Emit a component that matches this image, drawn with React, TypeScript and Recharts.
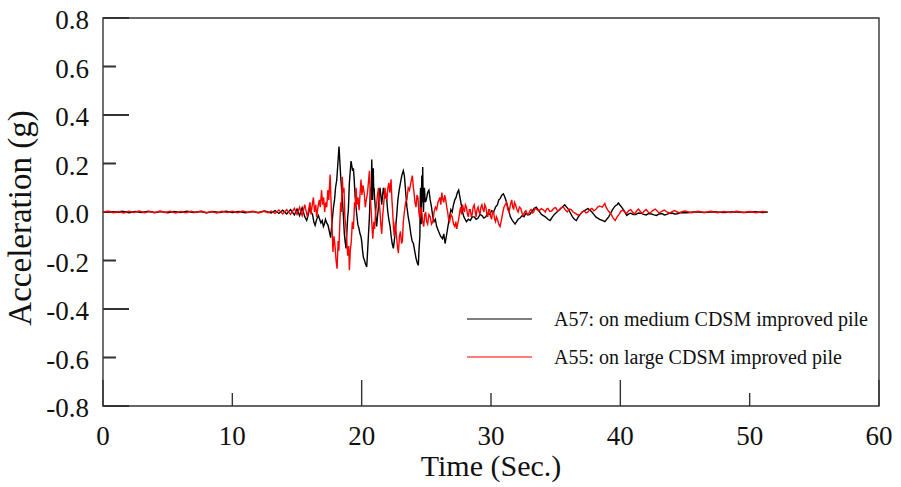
import { Legend, Line, LineChart, ReferenceArea, ReferenceLine, XAxis, YAxis } from "recharts";

// [time (s), acceleration (g)]
// A57: on medium CDSM improved pile (black)
const a57Samples: [number, number][] = [
  [0, 0], [0.5, 0.002], [1, -0.002], [1.5, 0.003], [2, -0.003], [2.5, 0.002], [3, -0.002], [3.5, 0.003],
  [4, -0.002], [4.5, 0.002], [5, -0.003], [5.5, 0.002], [6, -0.002], [6.5, 0.003], [7, -0.002], [7.5, 0.002],
  [8, -0.003], [8.5, 0.002], [9, -0.002], [9.5, 0.003], [10, -0.002], [10.5, 0.002], [11, -0.003], [11.5, 0.002],
  [12, -0.002], [12.5, 0.004], [13, -0.004], [13.3, 0.006], [13.6, -0.006], [13.9, 0.007], [14.2, -0.008],
  [14.5, 0.01], [14.8, -0.012], [15, 0.012], [15.2, -0.015], [15.4, 0.018], [15.6, -0.02], [15.75, -0.035],
  [15.88, -0.01], [16, 0.02], [16.1, 0], [16.2, -0.01], [16.3, -0.04], [16.4, -0.055], [16.52, -0.03],
  [16.65, -0.014], [16.75, -0.03], [16.85, -0.045], [16.95, -0.035], [17.04, -0.06], [17.12, -0.05], [17.2, -0.03],
  [17.3, -0.045], [17.4, -0.055], [17.5, -0.08], [17.6, -0.106], [17.68, -0.06], [17.75, -0.02], [17.82, 0.02],
  [17.9, 0.048], [17.98, 0.1], [18.07, 0.13], [18.16, 0.2], [18.25, 0.27], [18.32, 0.2], [18.38, 0.145],
  [18.44, 0.1], [18.5, 0.06], [18.59, -0.02], [18.66, -0.09], [18.72, -0.12], [18.79, -0.15], [18.86, -0.08],
  [18.92, -0.02], [18.97, 0.007], [19.05, 0.12], [19.12, 0.17], [19.18, 0.21], [19.24, 0.19], [19.3, 0.17],
  [19.36, 0.18], [19.41, 0.145], [19.5, 0.06], [19.6, 0], [19.7, -0.05], [19.8, -0.07], [19.87, -0.09],
  [19.94, -0.1], [20, -0.12], [20.07, -0.16], [20.13, -0.186], [20.22, -0.2], [20.3, -0.215], [20.39, -0.227],
  [20.45, -0.17], [20.5, -0.12], [20.55, -0.07], [20.6, -0.02], [20.65, 0.06], [20.7, 0.1], [20.74, 0.05],
  [20.78, 0.216], [20.82, 0.12], [20.85, 0.05], [20.88, 0.15], [20.9, 0.18], [20.93, 0.09], [20.96, 0.1],
  [21, 0.06], [21.05, 0.02], [21.1, -0.03], [21.16, -0.06], [21.22, -0.02], [21.3, 0.02], [21.36, 0.07],
  [21.42, 0.1], [21.48, 0.07], [21.55, 0.03], [21.62, 0.07], [21.68, 0.1], [21.74, 0.08], [21.8, 0.06],
  [21.88, 0.07], [21.94, 0.05], [22.02, 0], [22.1, -0.03], [22.2, -0.06], [22.28, -0.1], [22.36, -0.13],
  [22.45, -0.15], [22.52, -0.12], [22.6, -0.08], [22.7, -0.02], [22.8, 0.05], [22.9, 0.09], [23, 0.12],
  [23.1, 0.15], [23.22, 0.17], [23.3, 0.15], [23.35, 0.12], [23.42, 0.07], [23.5, 0.02], [23.6, -0.02],
  [23.7, -0.05], [23.8, -0.09], [23.9, -0.12], [24, -0.13], [24.1, -0.16], [24.2, -0.19], [24.3, -0.21],
  [24.38, -0.22], [24.44, -0.15], [24.5, -0.1], [24.53, 0.05], [24.55, 0.1], [24.58, -0.02], [24.6, -0.05],
  [24.63, 0.08], [24.65, 0.15], [24.68, 0.04], [24.72, 0.186], [24.75, 0.06], [24.78, 0], [24.82, 0.08],
  [24.85, 0.1], [24.92, 0.04], [25, 0.05], [25.1, 0.08], [25.2, 0.09], [25.3, 0.05], [25.4, 0.02], [25.5, -0.02],
  [25.6, -0.04], [25.7, -0.03], [25.8, -0.06], [25.95, -0.08], [26.1, -0.1], [26.25, -0.11], [26.35, -0.09],
  [26.45, -0.13], [26.55, -0.1], [26.7, -0.05], [26.8, -0.02], [26.9, 0.01], [27, 0], [27.1, 0.03], [27.2, 0.05],
  [27.3, 0.06], [27.4, 0.08], [27.5, 0.09], [27.6, 0.06], [27.7, 0.03], [27.8, 0], [27.9, -0.02], [28, -0.03],
  [28.1, -0.04], [28.25, -0.03], [28.4, -0.035], [28.55, -0.02], [28.7, -0.02], [28.85, -0.03], [29, -0.025],
  [29.15, -0.01], [29.3, -0.015], [29.45, -0.025], [29.6, -0.02], [29.75, -0.005], [29.9, -0.01], [30.05, 0.005],
  [30.2, 0], [30.35, 0.02], [30.5, 0.03], [30.6, 0.05], [30.7, 0.055], [30.85, 0.07], [30.96, 0.075],
  [31.08, 0.06], [31.2, 0.04], [31.35, 0.01], [31.5, -0.02], [31.65, -0.035], [31.86, -0.05], [31.98, -0.04],
  [32.1, -0.03], [32.25, -0.025], [32.4, -0.015], [32.55, -0.02], [32.7, -0.005], [32.85, -0.012], [33, -0.01],
  [33.2, 0.005], [33.35, 0.015], [33.5, 0.02], [33.7, 0.005], [33.9, -0.01], [34.05, -0.015], [34.2, -0.02],
  [34.4, -0.03], [34.57, -0.035], [34.75, -0.02], [34.9, -0.01], [35.1, 0], [35.3, 0.01], [35.5, 0.02],
  [35.7, 0.03], [35.85, 0.02], [36, 0.01], [36.15, -0.005], [36.3, -0.02], [36.45, -0.03], [36.6, -0.035],
  [36.75, -0.02], [36.9, -0.01], [37.05, 0], [37.2, 0.005], [37.35, 0.01], [37.5, 0.014], [37.65, 0.008],
  [37.8, 0], [37.95, -0.01], [38.1, -0.02], [38.25, -0.025], [38.4, -0.03], [38.6, -0.035], [38.8, -0.04],
  [38.95, -0.03], [39.1, -0.02], [39.25, -0.005], [39.4, 0.01], [39.6, 0.025], [39.75, 0.03], [39.85, 0.037],
  [39.95, 0.03], [40.1, 0.02], [40.3, 0.005], [40.5, -0.014], [40.65, -0.008], [40.8, -0.005], [41, -0.01],
  [41.2, -0.01], [41.4, -0.004], [41.6, -0.005], [41.8, -0.01], [42, -0.012], [42.2, -0.006], [42.4, -0.008],
  [42.6, -0.012], [42.8, -0.014], [43, -0.008], [43.2, -0.006], [43.4, -0.012], [43.6, -0.01], [43.8, -0.005],
  [44, -0.004], [44.2, -0.008], [44.4, -0.007], [44.6, -0.003], [44.8, -0.002], [45.2, -0.003], [45.8, 0.001],
  [46.5, -0.002], [47.2, 0.001], [48, -0.002], [48.8, 0.001], [49.6, -0.002], [50.4, 0.001], [51, -0.002],
  [51.4, 0],
];

// A55: on large CDSM improved pile (red)
const a55Samples: [number, number][] = [
  [0, 0], [0.4, 0.003], [0.8, -0.003], [1.2, 0.002], [1.6, -0.004], [2, 0.003], [2.4, -0.002], [2.8, 0.004],
  [3.2, -0.003], [3.6, 0.002], [4, -0.003], [4.4, 0.004], [4.8, -0.002], [5.2, 0.003], [5.6, -0.004], [6, 0.002],
  [6.4, -0.003], [6.8, 0.003], [7.2, -0.002], [7.6, 0.004], [8, -0.003], [8.4, 0.002], [8.8, -0.004],
  [9.2, 0.003], [9.6, -0.002], [10, 0.003], [10.4, -0.003], [10.8, 0.004], [11.2, -0.002], [11.6, 0.003],
  [12, -0.004], [12.4, 0.003], [12.8, -0.003], [13, 0.004], [13.3, -0.006], [13.6, 0.008], [13.9, -0.008],
  [14.2, 0.01], [14.5, -0.01], [14.8, 0.015], [15, -0.01], [15.2, 0.02], [15.4, -0.015], [15.6, 0.03],
  [15.8, -0.02], [16, 0.04], [16.08, -0.01], [16.18, 0.03], [16.27, 0.06], [16.35, 0], [16.45, 0.03],
  [16.52, -0.02], [16.62, 0.02], [16.72, 0.05], [16.8, 0.02], [16.9, 0.09], [16.98, 0.03], [17.06, 0.06],
  [17.14, 0], [17.22, 0.04], [17.3, 0.02], [17.38, 0.09], [17.46, 0.05], [17.56, 0.155], [17.62, 0.06],
  [17.7, -0.05], [17.78, -0.165], [17.86, -0.1], [17.94, -0.14], [18.02, -0.2], [18.1, -0.234], [18.18, -0.12],
  [18.24, -0.16], [18.3, -0.06], [18.38, 0.04], [18.44, 0], [18.5, 0.145], [18.56, 0.08], [18.63, 0.1],
  [18.7, -0.02], [18.78, -0.06], [18.85, -0.12], [18.92, -0.18], [19, -0.14], [19.05, -0.24], [19.12, -0.16],
  [19.2, -0.12], [19.28, -0.04], [19.36, -0.07], [19.45, 0.04], [19.52, 0.02], [19.57, 0.1], [19.64, 0.03],
  [19.72, 0.06], [19.8, 0.007], [19.88, 0.08], [19.95, 0.134], [20.02, 0.07], [20.1, 0.11], [20.2, 0.076],
  [20.28, 0.02], [20.36, 0.05], [20.45, 0.08], [20.52, 0.12], [20.6, 0.17], [20.66, 0.08], [20.72, 0.02],
  [20.8, -0.06], [20.86, -0.11], [20.94, -0.04], [21, -0.07], [21.08, 0], [21.15, 0.03], [21.22, 0.07],
  [21.3, 0.1], [21.36, 0.04], [21.42, 0], [21.48, -0.05], [21.55, -0.09], [21.62, -0.02], [21.7, 0.03],
  [21.8, 0.1], [21.88, 0.06], [21.95, 0.05], [22.03, 0.1], [22.1, 0.12], [22.18, 0.08], [22.27, 0.135],
  [22.34, 0.05], [22.4, 0], [22.46, -0.06], [22.52, -0.1], [22.6, -0.04], [22.68, -0.09], [22.76, -0.14],
  [22.84, -0.17], [22.92, -0.1], [23, -0.08], [23.08, -0.13], [23.15, -0.12], [23.22, -0.04], [23.3, 0],
  [23.4, 0.04], [23.5, 0.05], [23.6, 0.1], [23.7, 0.09], [23.8, 0.12], [23.92, 0.15], [24, 0.1], [24.05, 0.08],
  [24.12, 0.04], [24.2, 0.02], [24.28, 0.07], [24.35, 0.06], [24.42, 0], [24.5, -0.03], [24.58, 0.02],
  [24.65, 0], [24.72, -0.04], [24.8, -0.06], [24.88, -0.01], [24.95, 0], [25.02, -0.04], [25.1, -0.05],
  [25.2, -0.01], [25.3, -0.02], [25.4, -0.05], [25.5, -0.04], [25.6, 0], [25.7, 0.02], [25.8, 0.01],
  [25.9, 0.04], [26.05, 0.06], [26.12, 0.03], [26.2, 0.08], [26.28, 0.05], [26.35, 0.04], [26.42, 0.07],
  [26.5, 0.05], [26.58, 0.02], [26.65, 0], [26.72, -0.03], [26.8, -0.04], [26.9, -0.01], [27, -0.02],
  [27.1, -0.05], [27.2, -0.06], [27.28, -0.04], [27.35, -0.07], [27.42, -0.05], [27.5, -0.03], [27.58, 0],
  [27.65, 0.02], [27.72, -0.01], [27.8, 0.03], [27.88, 0.01], [27.95, 0], [28.02, 0.03], [28.1, 0.02],
  [28.18, -0.01], [28.25, -0.02], [28.32, 0.01], [28.4, 0.01], [28.48, -0.02], [28.55, -0.01], [28.62, 0.02],
  [28.7, 0.03], [28.78, 0], [28.85, -0.02], [28.92, 0.01], [29, 0.02], [29.08, 0], [29.15, -0.01],
  [29.22, 0.02], [29.3, 0.03], [29.38, 0.01], [29.45, 0], [29.52, 0.03], [29.6, 0.02], [29.68, -0.01],
  [29.75, -0.02], [29.82, 0.01], [29.9, 0.01], [29.98, -0.02], [30.05, -0.03], [30.12, 0], [30.2, 0],
  [30.28, -0.03], [30.35, -0.04], [30.42, -0.02], [30.5, -0.03], [30.6, -0.05], [30.7, -0.06], [30.78, -0.04],
  [30.85, -0.02], [30.92, 0], [31, 0.02], [31.1, 0.03], [31.2, 0.04], [31.3, 0.01], [31.4, 0], [31.5, 0.03],
  [31.6, 0.05], [31.68, 0.02], [31.75, 0.01], [31.82, 0.04], [31.9, 0.03], [32, 0.01], [32.1, 0],
  [32.2, 0.02], [32.3, 0.015], [32.4, -0.005], [32.5, -0.014], [32.6, 0], [32.7, 0.005], [32.8, -0.008],
  [32.9, -0.01], [33, 0.005], [33.1, 0.01], [33.2, -0.004], [33.3, 0], [33.4, 0.015], [33.5, 0.012],
  [33.7, 0.005], [33.9, 0.014], [34.05, 0.008], [34.2, 0], [34.3, 0.012], [34.4, 0.015], [34.55, 0.002],
  [34.7, 0.005], [34.85, 0.015], [35, 0.018], [35.15, 0.005], [35.3, 0.008], [35.45, 0.018], [35.6, 0.02],
  [35.75, 0.008], [35.9, 0], [36.05, 0.012], [36.2, 0.01], [36.35, 0], [36.5, -0.005], [36.7, -0.012],
  [36.9, -0.01], [37.05, 0], [37.2, 0.005], [37.35, -0.004], [37.5, 0], [37.65, 0.01], [37.8, 0.015],
  [37.95, 0.005], [38.1, 0.01], [38.25, 0.02], [38.4, 0.025], [38.6, 0.02], [38.8, 0.035], [38.9, 0.02],
  [39, 0.01], [39.15, 0], [39.3, -0.01], [39.45, -0.025], [39.6, -0.035], [39.75, -0.02], [39.9, -0.01],
  [40.05, 0.004], [40.2, 0.008], [40.35, -0.002], [40.5, -0.005], [40.65, 0.006], [40.8, 0.01], [40.95, 0],
  [41.1, -0.008], [41.25, 0.004], [41.4, 0.012], [41.55, 0.002], [41.7, -0.006], [41.85, 0.004], [42, 0.01],
  [42.15, 0], [42.3, -0.005], [42.5, 0.006], [42.7, 0.012], [42.85, 0.004], [43, -0.004], [43.2, 0.003],
  [43.4, 0.008], [43.6, 0], [43.8, -0.005], [44, 0.002], [44.2, 0.006], [44.4, 0], [44.6, -0.003], [44.8, 0.002],
  [45, 0.004], [45.5, -0.003], [46, 0.003], [46.5, -0.002], [47, 0.003], [47.5, -0.003], [48, 0.002],
  [48.5, -0.002], [49, 0.003], [49.5, -0.002], [50, 0.002], [50.5, -0.003], [51, 0.002], [51.3, 0],
];

const legendEntries = [
  { name: "A57: on medium CDSM improved pile", color: "#000000" },
  { name: "A55: on large CDSM improved pile", color: "#ff0000" },
];

const xTicks = [0, 10, 20, 30, 40, 50, 60];
const yTicks = [-0.8, -0.6, -0.4, -0.2, 0, 0.2, 0.4, 0.6, 0.8];

const a57Data = a57Samples.map(([t, v]) => ({ t, v }));
const a55Data = a55Samples.map(([t, v]) => ({ t, v }));

const FONT = '"Liberation Serif", "Times New Roman", serif';
const AXIS = "#333333";

const isLongY = (v: number) => Math.round(Math.abs(v) * 10) % 4 === 0;

function XTick(props: any) {
  const { x, y, payload } = props;
  const long = payload.value % 20 === 0;
  return (
    <g>
      <line x1={x} x2={x} y1={y} y2={y - (long ? 26 : 13)} stroke={AXIS} strokeWidth={1.4} />
      <text x={x} y={y + 39} textAnchor="middle" fontFamily={FONT} fontSize={27} fill="#111">
        {payload.value}
      </text>
    </g>
  );
}

function YTick(props: any) {
  const { x, y, payload } = props;
  return (
    <text x={x - 14} y={y + 11} textAnchor="end" fontFamily={FONT} fontSize={27} fill="#111">
      {payload.value.toFixed(1)}
    </text>
  );
}

// short inward tick on the left axis, starting where the reference line starts
function yTickShape(len: number) {
  return (p: any) => (
    <rect x={p.x1} y={p.y1 - 1} width={len} height={2} fill={AXIS} />
  );
}

function LegendBox() {
  return (
    <div style={{ fontFamily: FONT, fontSize: 20, color: "#111" }}>
      {legendEntries.map((item) => (
        <div key={item.name} style={{ display: "flex", alignItems: "center", height: 38 }}>
          <svg width={65} height={4} style={{ marginRight: 22, display: "block" }}>
            <line x1={0} x2={65} y1={2} y2={2} stroke={item.color} strokeWidth={1.2} />
          </svg>
          <span style={{ whiteSpace: "nowrap" }}>{item.name}</span>
        </div>
      ))}
    </div>
  );
}

export default function App() {
  return (
    <div style={{ position: "absolute", left: 0, top: 0, width: 901, height: 487, background: "#fff" }}>
      <LineChart width={901} height={487} margin={{ top: 18, right: 22, bottom: 80, left: 0 }}>
        <XAxis
          type="number"
          dataKey="t"
          domain={[0, 60]}
          ticks={xTicks}
          height={1}
          tickSize={0}
          tickMargin={0}
          axisLine={false}
          tickLine={false}
          tick={XTick}
          interval={0}
          label={(p: any) => {
            const vb = p.viewBox;
            return (
              <text x={vb.x + vb.width / 2} y={476} textAnchor="middle" fontFamily={FONT} fontSize={30} fill="#111">
                Time (Sec.)
              </text>
            );
          }}
        />
        <YAxis
          type="number"
          domain={[-0.8, 0.8]}
          ticks={yTicks}
          width={103}
          tickSize={0}
          tickMargin={0}
          axisLine={false}
          tickLine={false}
          tick={YTick}
          interval={0}
          label={() => (
            <text
              x={31}
              y={218}
              transform="rotate(-90 31 218)"
              textAnchor="middle"
              fontFamily={FONT}
              fontSize={33}
              fill="#111"
            >
              Acceleration (g)
            </text>
          )}
        />
        <ReferenceArea x1={0} x2={60} y1={-0.8} y2={0.8} fill="none" stroke={AXIS} strokeWidth={1.4} />
        {yTicks.map((v) => (
          <ReferenceLine key={v} y={v} ifOverflow="visible" shape={yTickShape(isLongY(v) ? 26 : 13)} />
        ))}
        <Legend
          layout="horizontal"
          verticalAlign="middle"
          align="center"
          content={LegendBox}
          wrapperStyle={{ left: 467, top: 300, width: 420, height: 76 }}
        />
        <Line
          data={a57Data}
          dataKey="v"
          name={legendEntries[0].name}
          type="linear"
          stroke="#000000"
          strokeWidth={1.4}
          dot={false}
          isAnimationActive={false}
        />
        <Line
          data={a55Data}
          dataKey="v"
          name={legendEntries[1].name}
          type="linear"
          stroke="#ff0000"
          strokeWidth={1.4}
          dot={false}
          isAnimationActive={false}
        />
      </LineChart>
    </div>
  );
}
